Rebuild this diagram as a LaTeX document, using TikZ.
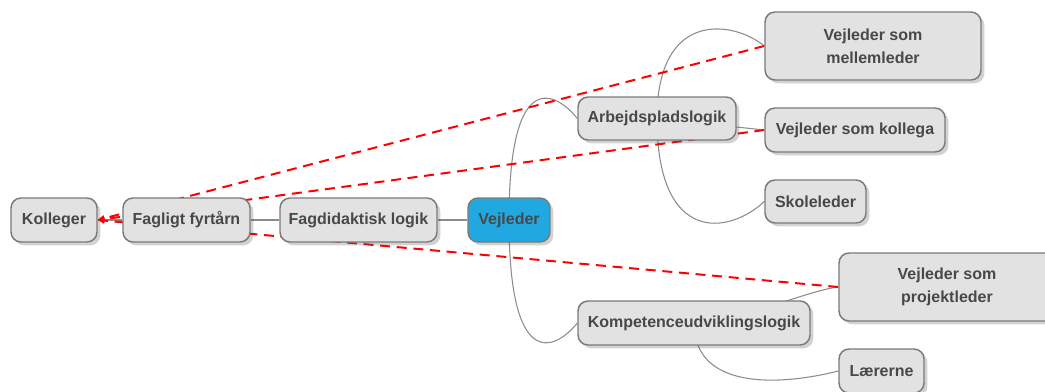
\documentclass[tikz,border=0pt]{standalone}
\usepackage{fontspec}
\setmainfont{Liberation Sans}
\usetikzlibrary{arrows.meta, shadows}
\pgfdeclarelayer{bg}
\pgfsetlayers{bg,main}
\definecolor{boxfill}{HTML}{E2E2E2}
\definecolor{boxline}{HTML}{7A7A7A}
\definecolor{boxtext}{HTML}{484848}
\definecolor{rootfill}{HTML}{22A8E0}
\definecolor{linkgray}{HTML}{8C8C8C}

\begin{document}
\begin{tikzpicture}[
      x=0.75pt, y=-0.75pt, >={Triangle[length=5pt,width=4.5pt]},
      idea/.style={draw=boxline, fill=boxfill, rounded corners=7.5pt, line width=1.1pt,
        text=boxtext, font=\fontsize{12}{17.5}\selectfont\bfseries, align=center,
        minimum height=33pt, inner sep=0pt,
        drop shadow={shadow xshift=2.5pt, shadow yshift=-2.5pt, opacity=.25, fill=black!70}},
      branch/.style={draw=linkgray, line width=0.8pt},
      relation/.style={draw=red, line width=1.5pt, dash pattern=on 7.5pt off 5pt, ->},
      ]
      \useasboundingbox (0,0) rectangle (1045,392);

      % centre and left side
      \node[idea, fill=rootfill, minimum width=61.5pt] (vej) at (509,220)   {Vejleder};
      \node[idea, minimum width=117.75pt]             (fdl) at (358.5,220) {Fagdidaktisk logik};
      \node[idea, minimum width=95.25pt]              (fyr) at (186.5,220) {Fagligt fyrtårn};
      \node[idea, minimum width=64.5pt]               (kol) at (54,220)    {Kolleger};

      % right side
      \node[idea, minimum width=118.5pt, minimum height=32.25pt] (arb) at (657,118.5) {Arbejdspladslogik};
      \node[idea, minimum width=162pt, minimum height=51pt]      (mel) at (873,46)    {Vejleder som\\mellemleder};
      \node[idea, minimum width=135pt]                           (kog) at (855,130)   {Vejleder som kollega};
      \node[idea, minimum width=75.75pt, minimum height=32.25pt] (sko) at (815.5,201.5) {Skoleleder};
      \node[idea, minimum width=174pt]                           (kom) at (694,323)   {Kompetenceudviklingslogik};
      \node[idea, minimum width=162pt, minimum height=51pt]      (pro) at (947,287)   {Vejleder som\\projektleder};
      \node[idea, minimum width=63.75pt]                         (lae) at (881.5,371) {Lærerne};

      \begin{pgfonlayer}{bg}
        \draw[branch] (vej) -- (fdl) -- (fyr) -- (kol);
        \draw[branch] (vej.center) .. controls +(0,-160) and +(-18,-23) .. (arb.west);
        \draw[branch] (vej.center) .. controls +(0,160) and +(-18,23) .. (kom.west);
        \draw[branch] (arb.center) .. controls +(0,-110) and +(-30,-25) .. (mel.west);
        \draw[branch] (arb.center) -- (kog.west);
        \draw[branch] (arb.center) .. controls +(0,127) and +(-35,33) .. (sko.west);
        \draw[branch] (kom.center) .. controls +(40,0) and +(-29,3) .. (pro.west);
        \draw[branch] (kom.center) .. controls +(0,67) and +(-59,15) .. (lae.west);

        % relations to Kolleger
        \draw[relation] (mel.west) -- (kol.east);
        \draw[relation] (kog.west) -- (kol.east);
        \draw[relation] (pro.west) -- (kol.east);
      \end{pgfonlayer}
    \end{tikzpicture}
\end{document}
